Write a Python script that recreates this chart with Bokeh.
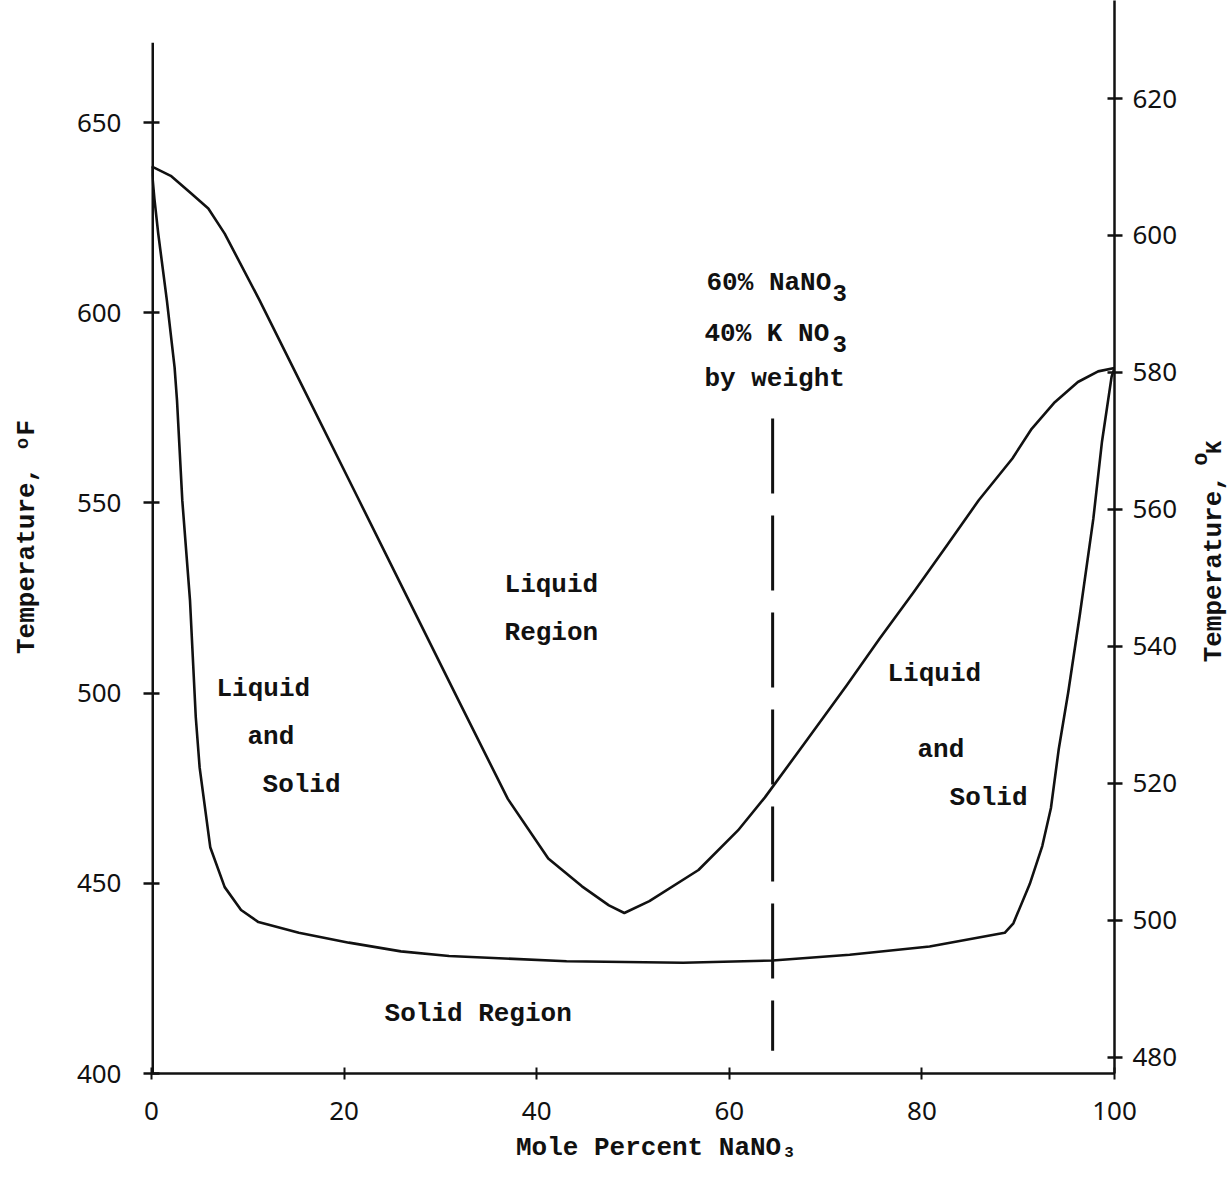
import math
from bokeh.plotting import figure
from bokeh.layouts import row
from bokeh.models import Range1d, LinearAxis, FixedTicker, Label
from bokeh.embed import file_html
from bokeh.resources import INLINE

# ---- data ----
x_ticks = [0, 20, 40, 60, 80, 100]
f_ticks = [400, 450, 500, 550, 600, 650]
k_ticks = [480, 500, 520, 540, 560, 580, 600, 620]

liquidus_x = [0, 2.0, 4.1, 5.9, 7.6, 11.2, 15.8, 21.4, 26.5, 31.7, 37.0, 41.2, 44.7,
              47.5, 49.1, 51.7, 56.8, 60.9, 63.7, 68.1, 72.2, 75.6, 79.1, 82.5, 85.9,
              89.4, 91.4, 93.8, 96.2, 98.3, 100]
liquidus_y = [638.5, 636.0, 631.4, 627.4, 620.8, 603.4, 580.0, 551.5, 525.5, 499.0, 472.2,
              456.5, 449.2, 444.2, 442.2, 445.3, 453.5, 463.9, 472.6, 487.8, 502.1, 514.3,
              526.4, 538.5, 550.7, 561.7, 569.5, 576.5, 581.8, 584.6, 585.5]

solidus_x = [0, 0.3, 0.7, 1.6, 2.4, 2.65, 3.2, 4.0, 4.6, 5.0, 6.1, 7.6, 9.3, 11.1, 15.3,
             20.5, 25.9, 30.9, 43.1, 55.2, 64.5, 72.5, 80.8, 88.6, 89.5, 91.2, 92.5, 93.4,
             94.2, 95.2, 96.4, 97.8, 98.7, 99.7, 100]
solidus_y = [638.5, 630.0, 620.8, 603.2, 585.6, 576.9, 550.6, 524.3, 493.6, 480.4, 459.5,
             449.0, 443.0, 439.8, 437.0, 434.4, 432.1, 430.9, 429.5, 429.1, 429.7, 431.2,
             433.4, 437.0, 439.5, 449.8, 459.8, 469.8, 485.1, 500.3, 520.6, 545.8, 566.1,
             583.2, 585.5]

mix_x = [64.5, 64.5]          # 60 wt% NaNO3 / 40 wt% KNO3 composition
mix_y = [572.2, 406.0]

axis_x = [0, 0]
axis_y = [400, 671]


def f_to_k(f):
    return (f - 32.0) / 1.8 + 273.15


MONO = "Liberation Mono"
SANS = "Noto Sans"
INK = "#111111"

Y_TOP = 682.1
H = 1190

p = figure(width=1187, height=H,
           x_range=Range1d(0, 100), y_range=Range1d(400, Y_TOP),
           output_backend="svg", toolbar_location=None,
           min_border_left=151, min_border_right=73,
           min_border_top=0, min_border_bottom=117)
p.outline_line_color = None
p.xgrid.visible = False
p.ygrid.visible = False
p.background_fill_color = "white"
p.border_fill_color = "white"

p.extra_y_ranges = {"K": Range1d(f_to_k(400), f_to_k(Y_TOP))}


def style_title(ax):
    ax.axis_label_text_font = MONO
    ax.axis_label_text_font_size = "26px"
    ax.axis_label_text_font_style = "bold"
    ax.axis_label_text_color = INK


def style_ticks(ax):
    ax.major_label_text_font = SANS
    ax.major_label_text_font_size = "26px"
    ax.major_label_text_color = INK
    ax.minor_tick_line_color = None
    ax.major_tick_line_color = INK


# bottom axis
xa = p.xaxis[0]
xa.ticker = FixedTicker(ticks=x_ticks)
xa.axis_line_width = 2.5
xa.axis_line_color = INK
xa.major_tick_in = 6
xa.major_tick_out = 6
xa.major_tick_line_width = 2
xa.major_label_standoff = 22
style_ticks(xa)
xa.axis_label = "\u00a0\u00a0\u00a0Mole Percent NaNO\u2083"
xa.axis_label_standoff = 10
style_title(xa)

# left axis (°F)
ya = p.yaxis[0]
ya.ticker = FixedTicker(ticks=f_ticks)
ya.axis_line_color = None
ya.major_tick_in = 8
ya.major_tick_out = 8
ya.major_tick_line_width = 2.5
ya.major_label_standoff = 22
style_ticks(ya)
ya.axis_label = "Temperature, \u1d52F"
ya.axis_label_standoff = 32
style_title(ya)

# right axis (°K)
ra = LinearAxis(y_range_name="K", ticker=FixedTicker(ticks=k_ticks))
ra.axis_line_width = 2.5
ra.axis_line_color = INK
ra.major_tick_in = 7
ra.major_tick_out = 8
ra.major_tick_line_width = 2.5
ra.major_label_standoff = 10
style_ticks(ra)
p.add_layout(ra, "right")

# left axis line drawn only up to the top of the hand-drawn axis
p.line(axis_x, axis_y, line_width=5, line_color=INK)

# curves
p.line(liquidus_x, liquidus_y, line_width=2.6, line_color=INK, line_join="round")
p.line(solidus_x, solidus_y, line_width=2.6, line_color=INK, line_join="round")
p.line(mix_x, mix_y, line_width=3, line_color=INK, line_dash="75 22")


def lab(fig, x, y, text, size="26px", angle=0.0):
    fig.add_layout(Label(x=x, y=y, text=text, text_font=MONO, text_font_size=size,
                         text_font_style="bold", text_color=INK, angle=angle,
                         text_align="left", text_baseline="alphabetic"))


# region annotations
lab(p, 6.75, 500.96, "Liquid")
lab(p, 9.97, 488.34, "and")
lab(p, 11.53, 475.72, "Solid")
lab(p, 76.43, 505.16, "Liquid")
lab(p, 79.54, 484.92, "and")
lab(p, 82.87, 472.30, "Solid")
lab(p, 36.66, 528.30, "Liquid")
lab(p, 36.66, 515.94, "Region")
lab(p, 24.20, 415.77, "Solid Region")

lab(p, 57.63, 607.96, "60% NaNO")
lab(p, 70.72, 605.33, "3", size="24px")
lab(p, 57.42, 594.55, "40% K NO")
lab(p, 70.72, 591.92, "3", size="24px")
lab(p, 57.42, 582.72, "by weight")

# right-hand axis title, read bottom to top, in a narrow strip beside the plot
TW = 42
t = figure(width=TW, height=H, x_range=Range1d(0, TW), y_range=Range1d(0, H),
           output_backend="svg", toolbar_location=None,
           x_axis_location=None, y_axis_location=None,
           min_border_left=0, min_border_right=0, min_border_top=0, min_border_bottom=0)
t.outline_line_color = None
t.xgrid.visible = False
t.ygrid.visible = False
t.background_fill_color = "white"
t.border_fill_color = "white"
half_pi = math.pi / 2
lab(t, 26, 456, "Temperature,", angle=half_pi)
lab(t, 14, 674, "o", size="22px", angle=half_pi)
lab(t, 28, 687, "K", size="22px", angle=half_pi)

layout = row(p, t, spacing=0)
open("out.html", "w").write(file_html(layout, INLINE))
